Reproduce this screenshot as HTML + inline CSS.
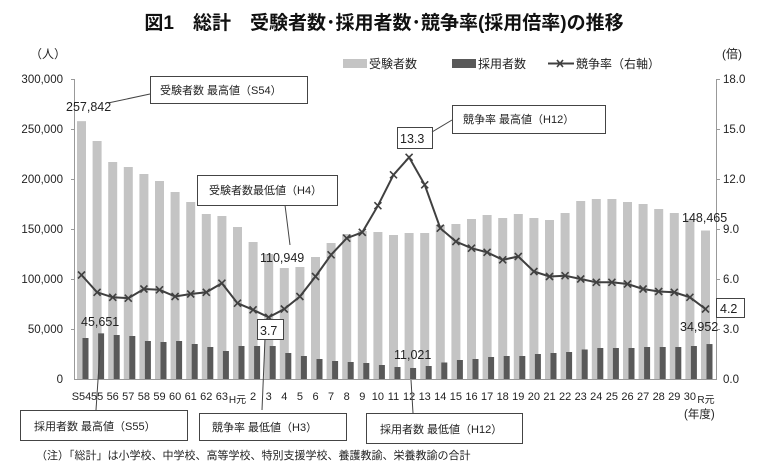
<!DOCTYPE html>
<html><head><meta charset="utf-8"><style>
body{margin:0;background:#fff;}
svg text{font-family:"Liberation Sans","Noto Sans CJK JP",sans-serif;fill:#222;}
</style></head><body>
<svg id="s" width="768" height="466" viewBox="0 0 768 466" xmlns="http://www.w3.org/2000/svg">
<text x="384" y="29" text-anchor="middle" font-size="19" font-weight="bold" style="fill:#111">図1　総計　受験者数･採用者数･競争率(採用倍率)の推移</text>
<text x="30" y="58" font-size="12">（人）</text>
<text x="722" y="58" font-size="12">(倍)</text>
<rect x="343" y="59" width="24" height="9" fill="#c4c4c4"/>
<text x="369" y="68" font-size="12">受験者数</text>
<rect x="452" y="59" width="24" height="9" fill="#595959"/>
<text x="478" y="68" font-size="12">採用者数</text>
<line x1="548" y1="63.5" x2="574" y2="63.5" stroke="#404040" stroke-width="2"/>
<path d="M557 60l6 7M563 60l-6 7" stroke="#404040" stroke-width="1.6"/>
<text x="576" y="68" font-size="12">競争率（右軸）</text>
<g font-size="11.5" text-anchor="end">
<text x="63" y="83">300,000</text><text x="63" y="133">250,000</text><text x="63" y="183">200,000</text>
<text x="63" y="233">150,000</text><text x="63" y="283">100,000</text><text x="63" y="333">50,000</text><text x="63" y="383">0</text>
</g>
<g font-size="11.5">
<text x="723" y="83">18.0</text><text x="723" y="133">15.0</text><text x="723" y="183">12.0</text>
<text x="723" y="233">9.0</text><text x="723" y="283">6.0</text><text x="723" y="333">3.0</text><text x="723" y="383">0.0</text>
</g>
<g stroke="#999" stroke-width="1">
<line x1="74.5" y1="79" x2="74.5" y2="379"/><line x1="716.5" y1="79" x2="716.5" y2="379"/>
<line x1="74" y1="379.5" x2="717" y2="379.5"/>
<path d="M71 79.5h4M71 129.5h4M71 179.5h4M71 229.5h4M71 279.5h4M71 329.5h4M716 79.5h4M716 129.5h4M716 179.5h4M716 229.5h4M716 279.5h4M716 329.5h4"/>
</g>
<g id="bars"></g>
<g id="line"></g>
<g font-size="11" text-anchor="middle">
<text x="81.5" y="400">S54</text><text x="97.1" y="400">55</text><text x="112.7" y="400">56</text><text x="128.3" y="400">57</text><text x="143.9" y="400">58</text><text x="159.5" y="400">59</text><text x="175.1" y="400">60</text><text x="190.7" y="400">61</text><text x="206.3" y="400">62</text><text x="221.9" y="400">63</text><text x="237.5" y="403" font-size="10">H元</text>
<text x="253.1" y="400">2</text><text x="268.7" y="400">3</text><text x="284.3" y="400">4</text><text x="299.9" y="400">5</text><text x="315.5" y="400">6</text><text x="331.1" y="400">7</text><text x="346.7" y="400">8</text><text x="362.3" y="400">9</text><text x="377.9" y="400">10</text><text x="393.5" y="400">11</text><text x="409.1" y="400">12</text><text x="424.7" y="400">13</text><text x="440.3" y="400">14</text><text x="455.9" y="400">15</text><text x="471.5" y="400">16</text><text x="487.1" y="400">17</text><text x="502.7" y="400">18</text><text x="518.3" y="400">19</text><text x="533.9" y="400">20</text><text x="549.5" y="400">21</text><text x="565.1" y="400">22</text><text x="580.7" y="400">23</text><text x="596.3" y="400">24</text><text x="611.9" y="400">25</text><text x="627.5" y="400">26</text><text x="643.1" y="400">27</text><text x="658.7" y="400">28</text><text x="674.3" y="400">29</text><text x="689.9" y="400">30</text><text x="706" y="403" font-size="10">R元</text>
</g>
<text x="684" y="418" font-size="11.5">(年度)</text>
<g fill="#fff" stroke="#444" stroke-width="1">
<rect x="150.5" y="76.5" width="157" height="27"/>
<rect x="452.5" y="105.5" width="153" height="28"/>
<rect x="397.5" y="127.5" width="35" height="21"/>
<rect x="197.5" y="175.5" width="140" height="30"/>
<rect x="257.5" y="319.5" width="26" height="20"/>
<rect x="716.5" y="298.5" width="28" height="19"/>
<rect x="20.5" y="410.5" width="167" height="30"/>
<rect x="199.5" y="413.5" width="147" height="27"/>
<rect x="366.5" y="413.5" width="156" height="30"/>
</g>
<g stroke="#444" stroke-width="1" fill="none">
<line x1="150" y1="94" x2="108" y2="103"/>
<line x1="452" y1="120" x2="432" y2="132"/>
<line x1="285" y1="205" x2="290" y2="245"/>
<line x1="265" y1="339" x2="262" y2="410"/>
<line x1="100" y1="350" x2="96" y2="410"/>
<line x1="411" y1="380" x2="413" y2="413"/>
</g>
<g font-size="11">
<text x="160" y="94">受験者数 最高値（S54）</text>
<text x="463" y="123">競争率 最高値（H12）</text>
<text x="209" y="194">受験者数最低値（H4）</text>
<text x="34" y="430">採用者数 最高値（S55）</text>
<text x="212" y="431">競争率 最低値（H3）</text>
<text x="380" y="433">採用者数 最低値（H12）</text>
<text x="36" y="459">（注）「総計」は小学校、中学校、高等学校、特別支援学校、養護教諭、栄養教諭の合計</text>
</g>
<g font-size="12.5">
<text x="66" y="111">257,842</text>
<text x="400" y="143">13.3</text>
<text x="260" y="262">110,949</text>
<text x="260" y="335">3.7</text>
<text x="81" y="326">45,651</text>
<text x="394" y="359">11,021</text>
<text x="682" y="222">148,465</text>
<text x="680" y="331">34,952</text>
<text x="720" y="313">4.2</text>
</g>
</svg>
<script>
var A=[257842,238000,217000,212000,205000,198000,187000,177000,165000,163000,152000,137000,125000,110949,112000,122000,136000,145000,148000,147000,144000,146000,146000,154000,155000,160000,164000,161000,165000,161000,159000,166000,178000,180000,180000,177000,175000,170000,166000,160000,148465];
var B=[41000,45651,44000,43000,38000,37000,38000,35000,32000,28000,33000,33000,33000,26000,23000,20000,18000,17000,16000,14000,12000,11021,13000,16500,19000,20000,22000,23000,23000,25000,26000,27000,29500,31000,31000,31000,32000,32000,32000,33000,34952];
var R=[6.24,5.2,4.9,4.85,5.4,5.35,4.95,5.1,5.2,5.75,4.55,4.15,3.7,4.2,4.95,6.15,7.45,8.45,8.8,10.4,12.25,13.3,11.65,9.05,8.25,7.85,7.6,7.15,7.35,6.45,6.15,6.2,6.0,5.8,5.8,5.7,5.4,5.25,5.2,4.9,4.2];
var ns="http://www.w3.org/2000/svg",g=document.getElementById("bars"),l=document.getElementById("line");
function el(p,t,a){var e=document.createElementNS(ns,t);for(var k in a)e.setAttribute(k,a[k]);p.appendChild(e);return e;}
var pts=[];
for(var i=0;i<41;i++){var c=81.5+15.6*i;
var h=A[i]/1000;el(g,"rect",{x:c-4.5,y:379-h,width:9,height:h,fill:"#c4c4c4"});
var h2=B[i]/1000;el(g,"rect",{x:c+1,y:379-h2,width:6,height:h2,fill:"#595959"});
pts.push(c.toFixed(1)+","+(379-R[i]*16.667).toFixed(1));}
el(l,"polyline",{points:pts.join(" "),fill:"none",stroke:"#404040","stroke-width":2});
for(var i=0;i<41;i++){var p=pts[i].split(",");var x=+p[0],y=+p[1];
el(l,"path",{d:"M"+(x-3.5)+" "+(y-3.5)+"l7 7M"+(x+3.5)+" "+(y-3.5)+"l-7 7",stroke:"#404040","stroke-width":1.6});}
</script>
</body></html>
